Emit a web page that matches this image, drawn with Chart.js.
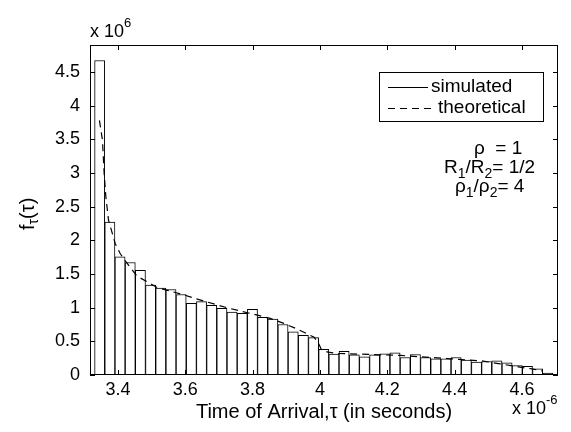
<!DOCTYPE html>
<html>
<head>
<meta charset="utf-8">
<script src="https://cdn.jsdelivr.net/npm/chart.js@4"></script>
<style>
  html, body { margin: 0; padding: 0; background: #fff; }
  #wrap { width: 571px; height: 432px; }
</style>
</head>
<body>
<div id="wrap"><canvas id="myChart" width="571" height="432"></canvas></div>
<script>
// histogram bin centres (x 10^-6 s)
const binCenters = [3.3457, 3.3760, 3.4062, 3.4365, 3.4667, 3.4970, 3.5272, 3.5575, 3.5877, 3.6180,
  3.6482, 3.6785, 3.7087, 3.7390, 3.7692, 3.7995, 3.8297, 3.8600, 3.8902, 3.9205,
  3.9507, 3.9810, 4.0112, 4.0415, 4.0717, 4.1020, 4.1322, 4.1625, 4.1927, 4.2230,
  4.2532, 4.2835, 4.3137, 4.3440, 4.3742, 4.4045, 4.4347, 4.4650, 4.4952, 4.5255,
  4.5557, 4.5860, 4.6162, 4.6465, 4.6767];
// simulated density (x 10^6)
const simulated = [4.67, 2.27, 1.755, 1.67, 1.555, 1.335, 1.29, 1.27, 1.195, 1.065,
  1.09, 1.035, 0.99, 0.935, 0.915, 0.975, 0.855, 0.83, 0.75, 0.64,
  0.59, 0.555, 0.38, 0.31, 0.35, 0.30, 0.27, 0.30, 0.315, 0.33,
  0.26, 0.305, 0.26, 0.24, 0.24, 0.26, 0.22, 0.19, 0.20, 0.21,
  0.18, 0.14, 0.13, 0.09, 0.03];
// theoretical curve
const theoX = [3.345, 3.354, 3.359, 3.364, 3.372, 3.392, 3.407, 3.424, 3.456, 3.516,
  3.595, 3.654, 3.723, 3.793, 3.852, 3.891, 3.938, 3.983, 3.995, 4.005,
  4.024, 4.05, 4.12, 4.18, 4.24, 4.30, 4.36, 4.42, 4.48, 4.53, 4.59, 4.63, 4.66];
const theoY = [3.78, 3.49, 3.0, 2.65, 2.30, 1.95, 1.80, 1.68, 1.47, 1.30,
  1.19, 1.10, 1.00, 0.915, 0.84, 0.77, 0.67, 0.56, 0.48, 0.37,
  0.34, 0.32, 0.31, 0.30, 0.29, 0.27, 0.25, 0.23, 0.21, 0.17, 0.12, 0.09, 0.06];
const xTicks = [3.4, 3.6, 3.8, 4, 4.2, 4.4, 4.6];
const yTicks = [0, 0.5, 1, 1.5, 2, 2.5, 3, 3.5, 4, 4.5];

const FONT = '"Liberation Sans", Arial, Helvetica, sans-serif';
const FS = 18;      // tick labels
const FS_TXT = 19;  // legend / notes
const FS_LAB = 20;  // axis titles

// draws text made of normal / sub / sup pieces
function richText(ctx, parts, x, y, size) {
  let cx = x;
  for (const [t, kind] of parts) {
    let fs = kind === 'n' ? size : Math.round(size * 0.72);
    let dy = kind === 'sub' ? size * 0.3 : (kind === 'sup' ? -size * 0.45 : 0);
    ctx.font = fs + 'px ' + FONT;
    ctx.fillText(t, cx, y + dy);
    cx += ctx.measureText(t).width;
  }
  return cx - x;
}

const decor = {
  id: 'decor',
  afterDraw(chart) {
    const ctx = chart.ctx;
    const a = chart.chartArea;
    const xs = chart.scales.x, ys = chart.scales.y;
    ctx.save();
    ctx.strokeStyle = '#000';
    ctx.fillStyle = '#000';
    ctx.lineWidth = 1;
    // box
    ctx.strokeRect(a.left + 0.5, a.top + 0.5, a.right - a.left - 1, a.bottom - a.top - 1);
    // inward ticks, all four sides
    ctx.beginPath();
    for (const v of xTicks) {
      const px = Math.round(xs.getPixelForValue(v)) + 0.5;
      ctx.moveTo(px, a.bottom); ctx.lineTo(px, a.bottom - 5);
      ctx.moveTo(px, a.top); ctx.lineTo(px, a.top + 5);
    }
    for (const v of yTicks) {
      const py = Math.round(ys.getPixelForValue(v)) + 0.5;
      ctx.moveTo(a.left, py); ctx.lineTo(a.left + 5, py);
      ctx.moveTo(a.right, py); ctx.lineTo(a.right - 5, py);
    }
    ctx.stroke();

    ctx.textBaseline = 'middle';
    ctx.textAlign = 'left';
    // exponent labels
    richText(ctx, [['x 10', 'n'], ['6', 'sup']], a.left, a.top - 13, FS);
    richText(ctx, [['x 10', 'n'], ['-6', 'sup']], 512, a.bottom + 34, FS);

    // x axis title
    ctx.font = FS_LAB + 'px ' + FONT;
    const xt = 'Time of Arrival,\u03c4 (in seconds)';
    const w = ctx.measureText(xt).width;
    ctx.fillText(xt, (a.left + a.right) / 2 - w / 2, a.bottom + 37);

    // y axis title
    ctx.save();
    ctx.translate(28, (a.top + a.bottom) / 2);
    ctx.rotate(-Math.PI / 2);
    richText(ctx, [['f', 'n'], ['\u03c4', 'sub'], ['(\u03c4)', 'n']], -20, 0, FS_LAB);
    ctx.restore();

    // legend
    const lx = 379, ly = 72;
    ctx.strokeRect(lx + 0.5, ly + 0.5, 164, 49);
    ctx.beginPath();
    ctx.moveTo(388, 87.5); ctx.lineTo(428, 87.5);
    ctx.stroke();
    ctx.setLineDash([7, 5]);
    ctx.beginPath();
    ctx.moveTo(388, 108.5); ctx.lineTo(434, 108.5);
    ctx.stroke();
    ctx.setLineDash([]);
    ctx.font = FS_TXT + 'px ' + FONT;
    ctx.fillText('simulated', 431, 87);
    ctx.fillText('theoretical', 438, 108);

    // parameter notes
    richText(ctx, [['\u03c1  = 1', 'n']], 474, 149, FS_TXT);
    richText(ctx, [['R', 'n'], ['1', 'sub'], ['/R', 'n'], ['2', 'sub'], ['= 1/2', 'n']], 444, 168, FS_TXT);
    richText(ctx, [['\u03c1', 'n'], ['1', 'sub'], ['/\u03c1', 'n'], ['2', 'sub'], ['= 4', 'n']], 455, 187, FS_TXT);
    ctx.restore();
  }
};

const ctx = document.getElementById('myChart').getContext('2d');
const myChart = new Chart(ctx, {
  type: 'bar',
  data: {
    datasets: [
      {
        type: 'line',
        label: 'theoretical',
        data: theoX.map((x, i) => ({ x: x, y: theoY[i] })),
        borderColor: '#000',
        borderWidth: 1.2,
        borderDash: [7, 5],
        pointRadius: 0,
        tension: 0,
        order: 0
      },
      {
        type: 'bar',
        label: 'simulated',
        data: binCenters.map((x, i) => ({ x: x, y: simulated[i] })),
        backgroundColor: '#fff',
        borderColor: '#000',
        borderWidth: 1,
        barPercentage: 1,
        categoryPercentage: 1,
        order: 1
      }
    ]
  },
  plugins: [decor],
  options: {
    responsive: false,
    animation: false,
    events: [],
    layout: { padding: { left: 40, right: 13, top: 45, bottom: 32 } },
    plugins: { legend: { display: false }, tooltip: { enabled: false } },
    scales: {
      x: {
        type: 'linear',
        min: 3.317,
        max: 4.707,
        offset: false,
        afterBuildTicks: s => { s.ticks = xTicks.map(v => ({ value: v })); },
        afterFit: s => { s.height = 25; },
        grid: { display: false, drawTicks: false },
        border: { display: false },
        ticks: { color: '#000', font: { family: FONT, size: FS }, padding: 4, maxRotation: 0,
          callback: v => String(v) }
      },
      y: {
        min: 0,
        max: 4.9,
        afterBuildTicks: s => { s.ticks = yTicks.map(v => ({ value: v })); },
        afterFit: s => { s.width = 50; },
        grid: { display: false, drawTicks: false },
        border: { display: false },
        ticks: { color: '#000', font: { family: FONT, size: FS }, padding: 10,
          callback: v => String(v) }
      }
    }
  }
});
</script>
</body>
</html>
